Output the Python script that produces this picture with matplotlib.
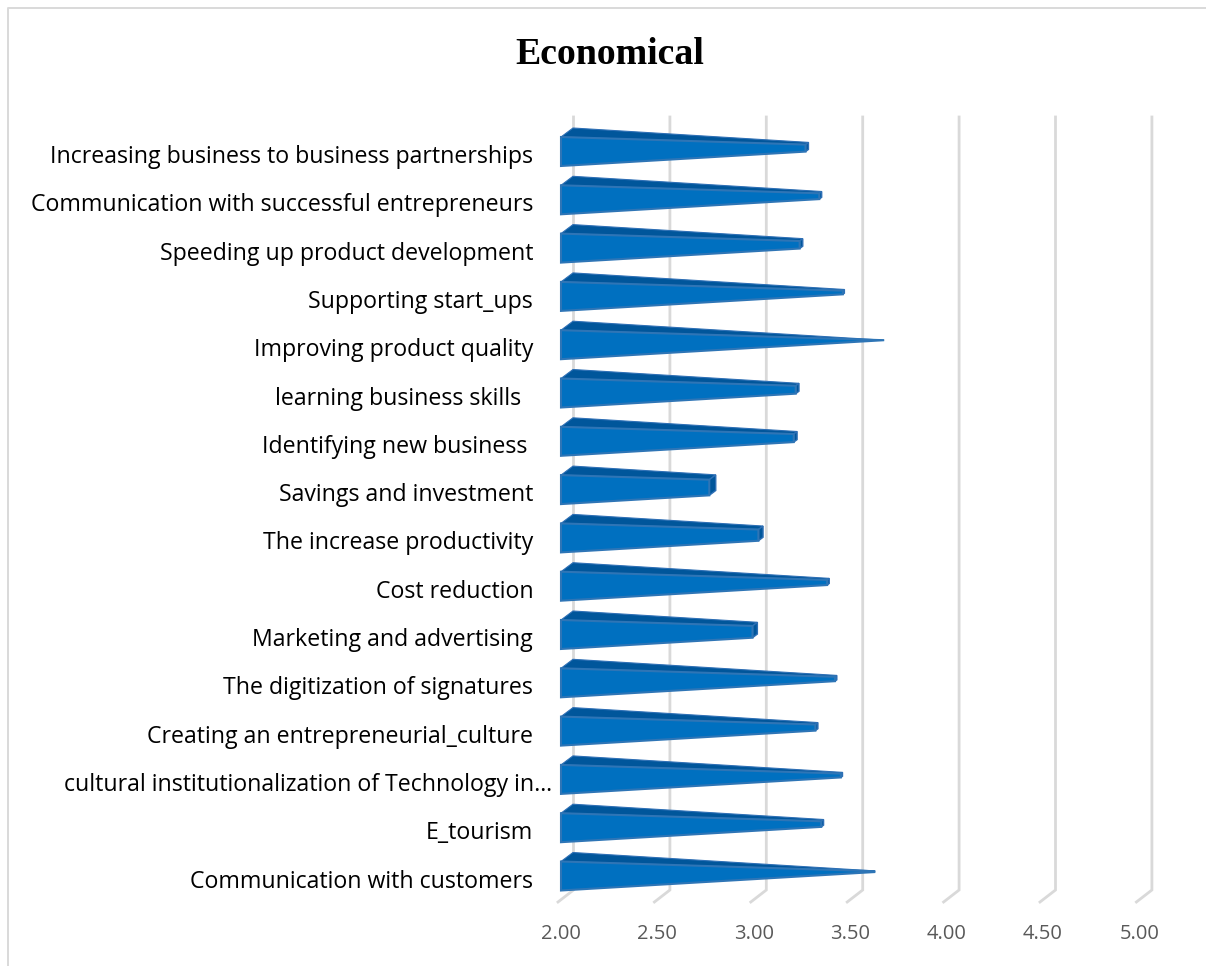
import matplotlib
matplotlib.use("Agg")
import matplotlib.pyplot as plt
from matplotlib.patches import Polygon
from matplotlib.lines import Line2D
from matplotlib.transforms import ScaledTranslation

plt.rcParams['font.family'] = ['Open Sans', 'DejaVu Sans']

#bottom to top, same order as the y axis
labels = ["Communication with customers", "E_tourism",
          "cultural institutionalization of Technology in\u2026",
          "Creating an entrepreneurial_culture", "The digitization of signatures",
          "Marketing and advertising", "Cost reduction", "The increase productivity",
          "Savings and investment", "Identifying new business ",
          "learning business skills  ", "Improving product quality",
          "Supporting start_ups", "Speeding up product development",
          "Communication with successful entrepreneurs",
          "Increasing business to business partnerships"]
values = [3.60, 3.33, 3.43, 3.30, 3.40, 2.98, 3.36, 3.01,
          2.76, 3.19, 3.20, 3.65, 3.44, 3.22, 3.32, 3.25]
xticks = [2.0, 2.5, 3.0, 3.5, 4.0, 4.5, 5.0]

W, H = 1206, 966
PX = 192.8  #pixels per unit of x
PITCH = 48.3  #pixels per category

fig = plt.figure(figsize=(W/100, H/100), dpi=100)
#2.00 on the front plane sits at pixel 561, category 0 centre at pixel 876
left = 561
bottom_px = 902
top_px = 129
ax = fig.add_axes([left/W, 1-bottom_px/H, (5-2)*PX/W, (bottom_px-top_px)/H])
ax.set_xlim(2, 5)
ax.set_ylim((876-bottom_px)/PITCH, (876-top_px)/PITCH)

def dx(p):
    return p/PX
def dy(p):
    return p/PITCH

#grid: back wall line plus slanted floor piece
ymin, ymax = ax.get_ylim()
for v in xticks:
    ax.plot([v+dx(12.5), v+dx(12.5), v-dx(3)], [ymax+dy(12), ymin+dy(12), ymin],
            color='#d9d9d9', lw=2.0, clip_on=False, zorder=1, solid_joinstyle='miter')

#pyramid bars, all of them taper to one apex at the largest value
vmax = max(values)
half = 0.30  #half height of the bar at the base, in categories
depth_x = dx(12)
depth_y = dy(9)
for i, v in enumerate(values):
    t = (v-2)/(vmax-2)
    s = 1-t
    #axis of the pyramid at this value
    cx = 2+depth_x/2+(v-2)-dx(1)
    cy = i
    h = half*s
    front_x = cx-depth_x/2*s
    back_x = cx+depth_x/2*s
    front_y = cy-depth_y/2*s+depth_y/2
    back_y = cy+depth_y/2*s+depth_y/2
    x0 = 2
    y0f = i
    y0b = i+depth_y
    top = Polygon([(x0, y0f+half), (x0+depth_x, y0b+half), (back_x, back_y+h), (front_x, front_y+h)],
                  closed=True, fc='#00569b', ec='#2e6fb5', lw=0.8, clip_on=False, zorder=3)
    cap = Polygon([(front_x, front_y+h), (back_x, back_y+h), (back_x, back_y-h), (front_x, front_y-h)],
                  closed=True, fc='#00569b', ec='#2e6fb5', lw=1.0, clip_on=False, zorder=3)
    front = Polygon([(x0, y0f+half), (front_x, front_y+h), (front_x, front_y-h), (x0, y0f-half)],
                    closed=True, fc='#0070c0', ec='#2e75b6', lw=1.5, clip_on=False, zorder=4)
    ax.add_patch(top)
    ax.add_patch(cap)
    ax.add_patch(front)

for sp in ax.spines.values():
    sp.set_visible(False)
ax.patch.set_alpha(0)
ax.set_xticks(xticks)
ax.set_xticklabels(["%.2f" % v for v in xticks], fontsize=14.5, color='#595959')
ax.set_yticks(range(len(labels)))
ax.set_yticklabels(labels, fontsize=16.7, color='#000000')
ax.tick_params(axis='x', length=0, pad=16)
ax.tick_params(axis='y', length=0, pad=20)

#labels sit a bit lower than the bar centres, the long one runs closer to the axis
for i, lab in enumerate(ax.get_yticklabels()):
    shift = 19 if i == 2 else 0
    lab.set_transform(lab.get_transform()+ScaledTranslation(shift/100, -2.5/100, fig.dpi_scale_trans))

fig.text(610/W, 1-55/H, "Economical", family='Liberation Serif', fontweight='bold',
         fontsize=27.2, ha='center', va='center', color='black')

#chart frame, only left and top are inside the crop
fig.add_artist(Line2D([8/W, 8/W, 1], [0, 1-8/H, 1-8/H], color='#d9d9d9', lw=1.4))

fig.savefig('out.png', dpi=100)
